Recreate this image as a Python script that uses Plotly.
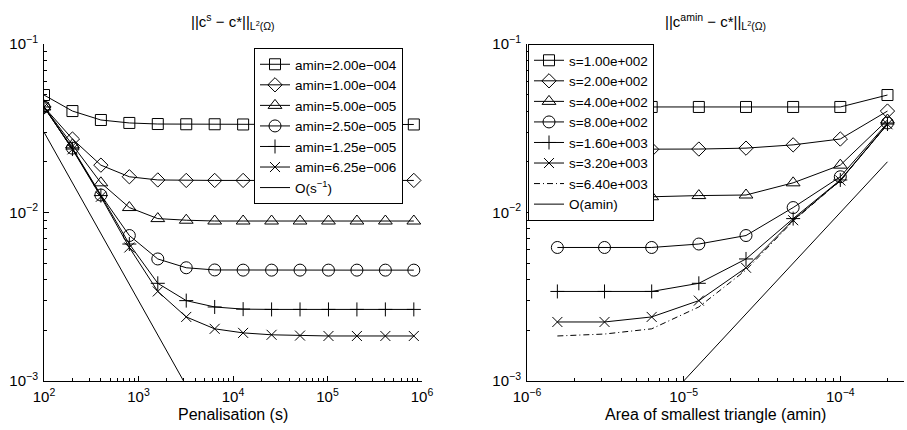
import plotly.graph_objects as go
import math

# ---------------- data ----------------
# Left panel: error vs penalisation s for several amin
s_vals = [100, 200, 400, 800, 1600, 3200, 6400, 12800, 25600, 51200, 102400, 204800, 409600, 819200]
err_amin_2e4 = [0.0498, 0.0400, 0.0354, 0.0340, 0.0335, 0.0334, 0.0334, 0.0333, 0.0333, 0.0333, 0.0333, 0.0333, 0.0333, 0.0333]
err_amin_1e4 = [0.0423, 0.0273, 0.0191, 0.0163, 0.0156, 0.0155, 0.0155, 0.0155, 0.0155, 0.0155, 0.0155, 0.0155, 0.0155, 0.0155]
err_amin_5e5 = [0.0423, 0.0252, 0.0150, 0.0107, 0.0092, 0.0090, 0.0089, 0.0089, 0.0089, 0.0089, 0.0089, 0.0089, 0.0089, 0.0089]
err_amin_25e6 = [0.0423, 0.0241, 0.0127, 0.0073, 0.0053, 0.0047, 0.00456, 0.00455, 0.00455, 0.00455, 0.00455, 0.00455, 0.00455, 0.00455]
err_amin_125e7 = [0.0423, 0.0238, 0.0126, 0.0065, 0.0038, 0.0030, 0.00275, 0.00267, 0.00266, 0.00266, 0.00266, 0.00266, 0.00266, 0.00266]
err_amin_625e8 = [0.0423, 0.0237, 0.0124, 0.0062, 0.0034, 0.0024, 0.00204, 0.00193, 0.00188, 0.00186, 0.00185, 0.00185, 0.00185, 0.00185]
left_labels = ["amin=2.00e\u2212004", "amin=1.00e\u2212004", "amin=5.00e\u2212005",
               "amin=2.50e\u2212005", "amin=1.25e\u2212005", "amin=6.25e\u2212006"]
ref_s_coef = 3.0  # O(s^-1) reference line: coef / s

# Right panel: error vs amin for several s
amin_vals = [1.5625e-6, 3.125e-6, 6.25e-6, 1.25e-5, 2.5e-5, 5e-5, 1e-4, 2e-4]
err_s_100 = [0.0423, 0.0423, 0.0423, 0.0423, 0.0423, 0.0423, 0.0423, 0.0498]
err_s_200 = [0.0237, 0.0237, 0.0237, 0.0238, 0.0241, 0.0252, 0.0273, 0.0400]
err_s_400 = [0.0123, 0.0123, 0.0124, 0.0126, 0.0127, 0.0150, 0.0191, 0.0354]
err_s_800 = [0.0062, 0.0062, 0.0062, 0.0065, 0.0073, 0.0107, 0.0163, 0.0340]
err_s_1600 = [0.0034, 0.0034, 0.0034, 0.0038, 0.0053, 0.0092, 0.0156, 0.0335]
err_s_3200 = [0.00224, 0.00224, 0.0024, 0.0030, 0.0047, 0.0090, 0.0155, 0.0334]
err_s_6400 = [0.00185, 0.0019, 0.00204, 0.00275, 0.00456, 0.0089, 0.0155, 0.0334]
right_labels = ["s=1.00e+002", "s=2.00e+002", "s=4.00e+002", "s=8.00e+002",
                "s=1.60e+003", "s=3.20e+003", "s=6.40e+003"]
ref_amin_coef = 100.0  # O(amin) reference line: coef * amin

# ---------------- styling ----------------
W, H = 907, 430
FONT = "Liberation Sans, Arial, sans-serif"
symbols = ["square-open", "diamond-open", "triangle-up-open", "circle-open", "cross-thin-open", "x-thin-open"]
sizes = [11, 11, 12, 12, 10, 10]

fig = go.Figure()

left_series = [err_amin_2e4, err_amin_1e4, err_amin_5e5, err_amin_25e6, err_amin_125e7, err_amin_625e8]
for ys, lab, sym, sz in zip(left_series, left_labels, symbols, sizes):
    fig.add_trace(go.Scatter(
        x=s_vals, y=ys, name=lab, mode="lines+markers",
        line=dict(color="black", width=1),
        marker=dict(symbol=sym, size=sz, color="black", line=dict(color="black", width=1)),
        xaxis="x", yaxis="y", legend="legend"))
fig.add_trace(go.Scatter(
    x=s_vals, y=[ref_s_coef / s for s in s_vals], name="O(s<sup>\u22121</sup>)", mode="lines",
    line=dict(color="black", width=1), xaxis="x", yaxis="y", legend="legend"))

right_series = [err_s_100, err_s_200, err_s_400, err_s_800, err_s_1600, err_s_3200]
for ys, lab, sym, sz in zip(right_series, right_labels[:6], symbols, sizes):
    fig.add_trace(go.Scatter(
        x=amin_vals, y=ys, name=lab, mode="lines+markers",
        line=dict(color="black", width=1),
        marker=dict(symbol=sym, size=sz, color="black", line=dict(color="black", width=1)),
        xaxis="x2", yaxis="y2", legend="legend2"))
fig.add_trace(go.Scatter(
    x=amin_vals, y=err_s_6400, name=right_labels[6], mode="lines",
    line=dict(color="black", width=1, dash="6px,3px,1px,3px"),
    xaxis="x2", yaxis="y2", legend="legend2"))
fig.add_trace(go.Scatter(
    x=amin_vals, y=[ref_amin_coef * a for a in amin_vals], name="O(amin)", mode="lines",
    line=dict(color="black", width=1), xaxis="x2", yaxis="y2", legend="legend2"))


def log_ticks(lo, hi):
    major, minor = [], []
    for e in range(lo, hi + 1):
        major.append(10.0 ** e)
        if e < hi:
            for m in range(2, 10):
                minor.append(m * 10.0 ** e)
    return major, minor


def pow_label(e):
    return "10<sup>%s</sup>" % (str(e).replace("-", "\u2212"))


ytop, ybot = 44, 381
ydom = [1 - ybot / H, 1 - ytop / H]

axis_common = dict(type="log", showline=True, linecolor="black", linewidth=1, mirror=False,
                   ticks="inside", ticklen=5, tickcolor="black", tickwidth=1,
                   showgrid=False, zeroline=False, automargin=False,
                   tickfont=dict(family=FONT, size=15, color="black"))

xmaj, xmin_ = log_ticks(2, 6)
fig.update_layout(xaxis=dict(axis_common, range=[2, 6], domain=[44 / W, 422 / W], anchor="y",
                             tickvals=xmaj, ticktext=[pow_label(e) for e in range(2, 7)],
                             ticklabelstandoff=2,
                             minor=dict(tickvals=xmin_, ticks="inside", ticklen=3, tickcolor="black")))
ymaj, ymin_ = log_ticks(-3, -1)
yaxis_def = dict(axis_common, range=[-3, -1], domain=ydom,
                 tickvals=ymaj, ticktext=[pow_label(e) for e in range(-3, 0)],
                 ticklabelstandoff=2,
                 minor=dict(tickvals=ymin_, ticks="inside", ticklen=3, tickcolor="black"))
fig.update_layout(yaxis=dict(yaxis_def, anchor="x"))

x2maj, x2min = log_ticks(-6, -4)
x2min = x2min + [2e-4]
fig.update_layout(xaxis2=dict(axis_common, range=[-6, math.log10(2.55e-4)], domain=[527 / W, 904 / W], anchor="y2",
                              tickvals=x2maj, ticktext=[pow_label(e) for e in range(-6, -3)],
                              ticklabelstandoff=2,
                              minor=dict(tickvals=x2min, ticks="inside", ticklen=3, tickcolor="black")))
fig.update_layout(yaxis2=dict(yaxis_def, anchor="x2"))

legend_common = dict(bgcolor="white", bordercolor="black", borderwidth=1,
                     font=dict(family=FONT, size=13.5, color="black"),
                     xanchor="left", yanchor="top", tracegroupgap=0, itemwidth=30)
fig.update_layout(
    legend=dict(legend_common, x=254 / W, y=1 - 48 / H),
    legend2=dict(legend_common, x=528 / W, y=1 - 44 / H),
)

# titles and axis labels
anns = [
    dict(text="||c<sup>s</sup> \u2212 c*||<sub>L<sup>2</sup>(\u03a9)</sub>", x=(44 + 422) / 2 / W, y=1 - 21 / H, size=15),
    dict(text="||c<sup>amin</sup> \u2212 c*||<sub>L<sup>2</sup>(\u03a9)</sub>", x=(527 + 904) / 2 / W, y=1 - 21 / H, size=15),
    dict(text="Penalisation (s)", x=(44 + 422) / 2 / W, y=1 - 414 / H, size=16),
    dict(text="Area of smallest triangle (amin)", x=(527 + 904) / 2 / W, y=1 - 414 / H, size=16),
]
fig.update_layout(annotations=[dict(text=a["text"], x=a["x"], y=a["y"], xref="paper", yref="paper",
                                    showarrow=False, xanchor="center", yanchor="middle",
                                    font=dict(family=FONT, size=a["size"], color="black")) for a in anns])

fig.update_layout(width=W, height=H, margin=dict(l=0, r=0, t=0, b=0, autoexpand=False),
                  paper_bgcolor="white", plot_bgcolor="white", showlegend=True,
                  font=dict(family=FONT, color="black"))

fig.write_html("out.html", config={"displayModeBar": False})
